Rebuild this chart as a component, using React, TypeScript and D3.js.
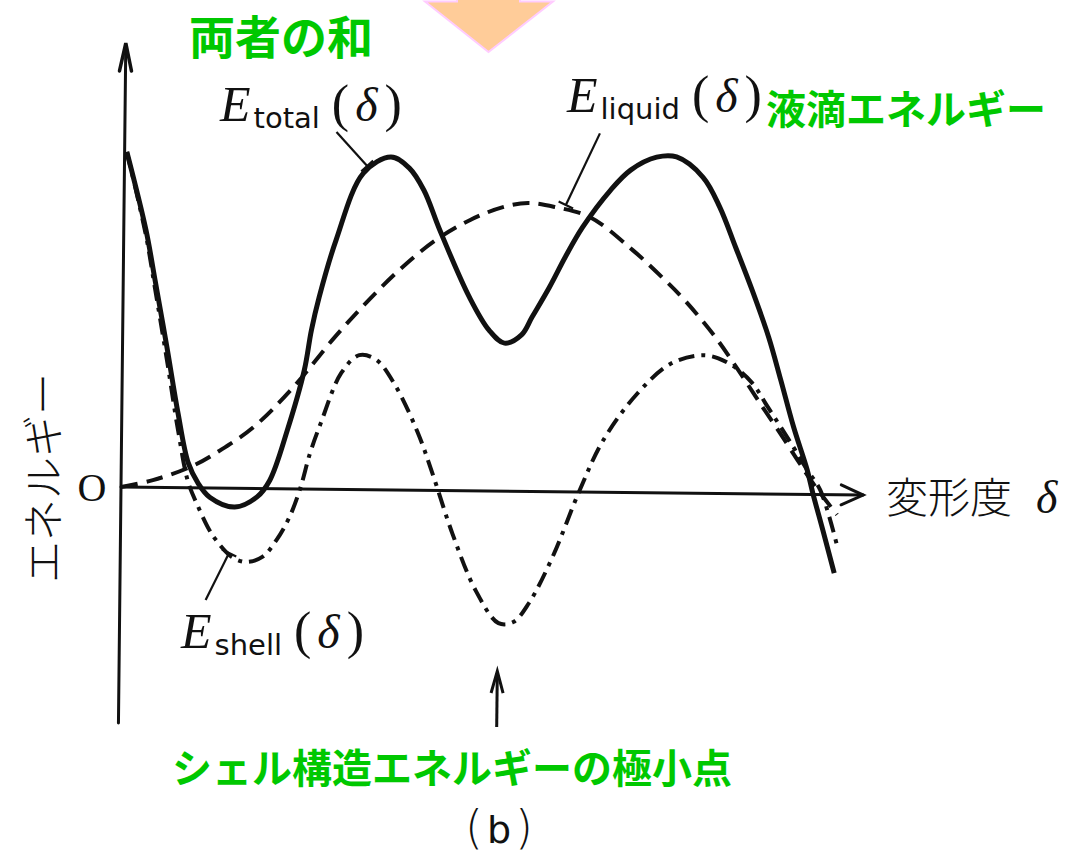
import React from 'react';
import * as d3 from 'd3';

const W = 1084;
const H = 855;

// Deformation δ (horizontal) and energy E (vertical) samples of each curve
const totalDelta = [0.03, 0.3, 0.43, 0.6, 0.76, 0.905, 1.04, 1.2, 1.54, 1.84, 2.01, 2.24, 2.46, 2.55, 2.65, 2.87, 3.23, 3.6, 3.85, 4.05, 4.27, 4.68, 4.95, 5.16, 5.39, 5.53, 5.76, 5.97, 6.2, 6.57, 6.84, 7.19, 7.46, 7.82, 8.05, 8.27, 8.5, 8.73, 8.9, 9.08, 9.27, 9.35, 9.49, 9.65];
const totalE = [8.38, 6.43, 5.18, 3.51, 1.86, 0.62, 0.12, -0.23, -0.47, -0.21, 0.21, 1.47, 2.97, 3.97, 4.8, 6.23, 7.91, 8.32, 8.05, 7.5, 6.51, 4.84, 4.02, 3.7, 3.91, 4.36, 5.11, 5.87, 6.62, 7.55, 8.06, 8.39, 8.4, 7.9, 7.16, 6.16, 5.09, 3.92, 2.85, 1.68, 0.61, 0.03, -0.89, -1.96];

const liquidDelta = [0, 0.43, 0.97, 1.34, 1.78, 2.28, 2.87, 3.32, 3.77, 4.22, 4.68, 5.12, 5.46, 5.84, 6.3, 6.88, 7.32, 7.6, 8.0, 8.32, 8.64, 8.9, 9.14, 9.35, 9.68];
const liquidE = [0, 0.18, 0.55, 0.95, 1.53, 2.47, 3.81, 4.74, 5.57, 6.26, 6.77, 7.1, 7.21, 7.11, 6.87, 6.06, 5.32, 4.8, 3.93, 3.1, 2.22, 1.52, 0.85, 0.28, -0.5];

const shellDelta = [0.03, 0.3, 0.43, 0.6, 0.76, 0.905, 1.04, 1.2, 1.3, 1.51, 1.7, 1.92, 2.11, 2.28, 2.42, 2.55, 2.69, 2.96, 3.2, 3.43, 3.68, 4.0, 4.22, 4.49, 4.81, 5.12, 5.32, 5.53, 5.84, 6.2, 6.51, 6.97, 7.42, 7.87, 8.19, 8.5, 8.73, 9.08, 9.27, 9.45, 9.69];
const shellE = [8.38, 6.3, 4.98, 3.21, 1.46, 0.15, -0.45, -1.05, -1.32, -1.72, -1.84, -1.71, -1.28, -0.71, 0.0, 0.9, 1.65, 2.91, 3.36, 3.25, 2.65, 1.45, 0.35, -1.1, -2.5, -3.3, -3.27, -2.79, -1.64, 0.05, 1.3, 2.49, 3.24, 3.45, 3.26, 2.8, 2.17, 1.18, 0.61, 0.11, -1.31];

// Axis extents
const deltaMax = 10.03;
const eMin = -5.9;
const eMax = 11.1;

// Leader lines from the labels to the curves: [δ0, E0, δ1, E1]
const leaderTotal = [2.86, 8.93, 3.28, 8.09];
const leaderLiquid = [6.42, 8.97, 5.97, 7.17];
const leaderShell = [1.16, -2.8, 1.47, -1.62];

const GREEN = '#00c800';
const INK = '#111';

const xs = d3.scaleLinear().domain([0, 10]).range([121, 861]);
const ys = d3.scaleLinear().domain([0, 10]).range([487, 87]);

const line = d3
  .line<[number, number]>()
  .x((d) => xs(d[0]))
  .y((d) => ys(d[1]))
  .curve(d3.curveCatmullRom.alpha(0.5));

const zipPts = (a: number[], b: number[]) => a.map((v, i) => [v, b[i]] as [number, number]);

function Leader({ seg }: { seg: number[] }) {
  const x0 = xs(seg[0]);
  const y0 = ys(seg[1]);
  const x1 = xs(seg[2]);
  const y1 = ys(seg[3]);
  const len = Math.hypot(x1 - x0, y1 - y0);
  const ux = (x1 - x0) / len;
  const uy = (y1 - y0) / len;
  const t = 8;
  return (
    <g stroke={INK} strokeWidth={2.2} fill="none">
      <line x1={x0} y1={y0} x2={x1} y2={y1} />
      <line x1={x1 - uy * t} y1={y1 + ux * t} x2={x1 + uy * t} y2={y1 - ux * t} />
    </g>
  );
}

function ELabel({ x, y, sub }: { x: number; y: number; sub: string }) {
  return (
    <text x={x} y={y} fill={INK}>
      <tspan fontFamily="'Liberation Serif', serif" fontStyle="italic" fontSize={50}>E</tspan>
      <tspan fontFamily="'DejaVu Sans', sans-serif" fontSize={29} dx={3} dy={7}>{sub}</tspan>
      <tspan fontFamily="'Liberation Serif', serif" fontSize={52} dx={12} dy={-7}>(</tspan>
      <tspan fontFamily="'Liberation Serif', serif" fontStyle="italic" fontSize={48} dx={6}>δ</tspan>
      <tspan fontFamily="'Liberation Serif', serif" fontSize={52} dx={7}>)</tspan>
    </text>
  );
}

export default function App() {
  const total = zipPts(totalDelta, totalE);
  const liquid = zipPts(liquidDelta, liquidE);
  const shell = zipPts(shellDelta, shellE);

  const minIdx = d3.minIndex(shellE);
  const arrowX = xs((shellDelta[minIdx] + shellDelta[minIdx + 1]) / 2) - 8;
  const arrowTop = ys(-4.5);
  const arrowBottom = ys(-5.9);

  const ox = xs(0);
  const oy = ys(0);
  const yTip = ys(eMax);
  const xTip = xs(deltaMax);

  return (
    <svg
      width={W}
      height={H}
      viewBox={`0 0 ${W} ${H}`}
      style={{ position: 'absolute', left: 0, top: 0, display: 'block', background: '#fff' }}
    >
      <rect width={W} height={H} fill="#fff" />

      {/* down arrow entering from the top */}
      <path
        d="M457,-10 L520,-10 L520,1.5 L553,1.5 L488.5,52 L425,1.5 L457,1.5 Z"
        fill="#ffcc99"
        stroke="#ffccff"
        strokeWidth={2}
      />

      {/* plot, slightly skewed like the printed figure */}
      <g transform={`rotate(0.62, ${ox}, ${oy})`}>
        {/* axes */}
        <g stroke={INK} strokeWidth={3} fill="none" strokeLinecap="round">
          <line x1={ox} y1={ys(eMin)} x2={ox} y2={yTip + 2} />
          <path d={`M${ox - 6},${yTip + 28} L${ox},${yTip} L${ox + 6},${yTip + 28}`} strokeWidth={3.5} />
          <line x1={ox} y1={oy} x2={xTip} y2={oy} />
          <path d={`M${xTip - 22},${oy - 10} L${xTip},${oy} L${xTip - 22},${oy + 10}`} />
        </g>

        {/* E_liquid(δ) */}
        <path d={line(liquid) ?? ''} fill="none" stroke={INK} strokeWidth={4} strokeDasharray="17 9" />
        {/* E_shell(δ) */}
        <path d={line(shell) ?? ''} fill="none" stroke={INK} strokeWidth={4} strokeDasharray="16 7 4 7" />
        {/* E_total(δ) */}
        <path d={line(total) ?? ''} fill="none" stroke={INK} strokeWidth={5} strokeLinejoin="round" />

        <Leader seg={leaderTotal} />
        <Leader seg={leaderLiquid} />
        <Leader seg={leaderShell} />

        {/* pointer to the shell-energy minimum */}
        <g stroke={INK} strokeWidth={3} fill="none">
          <line x1={arrowX} y1={arrowTop + 2} x2={arrowX} y2={arrowBottom} />
          <path d={`M${arrowX - 6},${arrowTop + 22} L${arrowX},${arrowTop} L${arrowX + 6},${arrowTop + 22}`} />
        </g>
      </g>

      {/* axis labels */}
      <text x={92} y={487} fontFamily="'Liberation Serif', serif" fontSize={40} fill={INK} textAnchor="middle" dominantBaseline="central">O</text>
      <text
        transform="translate(40,478) rotate(-90)"
        fontFamily="'Noto Sans CJK JP', sans-serif"
        fontWeight={300}
        fontSize={42}
        fill={INK}
        textAnchor="middle"
        dominantBaseline="central"
      >
        エネルギー
      </text>
      <text x={886} y={513} fill={INK}>
        <tspan fontFamily="'Noto Sans CJK JP', sans-serif" fontWeight={300} fontSize={42}>変形度</tspan>
        <tspan fontFamily="'Liberation Serif', serif" fontStyle="italic" fontSize={46} dx={24}>δ</tspan>
      </text>

      {/* curve labels */}
      <ELabel x={220} y={121} sub="total" />
      <ELabel x={567} y={112} sub="liquid" />
      <ELabel x={181} y={648} sub="shell" />

      {/* annotations */}
      <text x={189} y={54} fontFamily="'Noto Sans CJK JP', sans-serif" fontWeight={700} fontSize={46} fill={GREEN}>両者の和</text>
      <text x={766} y={124} fontFamily="'Noto Sans CJK JP', sans-serif" fontWeight={700} fontSize={40} fill={GREEN}>液滴エネルギー</text>
      <text x={172} y={783} fontFamily="'Noto Sans CJK JP', sans-serif" fontWeight={700} fontSize={40} fill={GREEN}>シェル構造エネルギーの極小点</text>
      <text x={499} y={843} fill={INK} textAnchor="middle">
        <tspan fontFamily="'DejaVu Sans', sans-serif" fontWeight={300} fontSize={46}>(</tspan>
        <tspan fontFamily="'DejaVu Sans', sans-serif" fontSize={38} dx={4}>b</tspan>
        <tspan fontFamily="'DejaVu Sans', sans-serif" fontWeight={300} fontSize={46} dx={4}>)</tspan>
      </text>
    </svg>
  );
}
